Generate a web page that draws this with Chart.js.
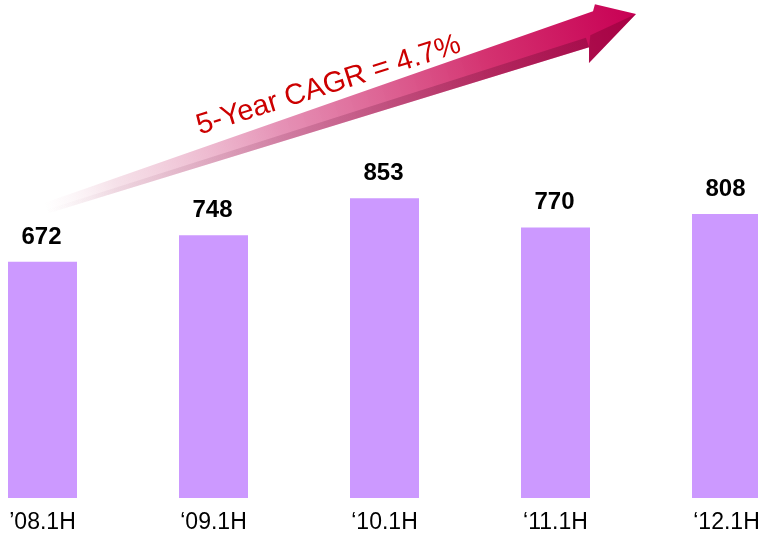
<!DOCTYPE html>
<html>
<head>
<meta charset="utf-8">
<script src="https://cdn.jsdelivr.net/npm/chart.js@4.4.1/dist/chart.umd.min.js"></script>
<style>
  html, body { margin: 0; padding: 0; background: #ffffff; }
  #wrap { width: 758px; height: 535px; position: relative; }
</style>
</head>
<body>
<div id="wrap"><canvas id="c" width="758" height="535"></canvas></div>
<script>
const categories = ["\u201908.1H", "\u201809.1H", "\u201810.1H", "\u201811.1H", "\u201812.1H"];
const values = [672, 748, 853, 770, 808];
const cagrText = "5-Year CAGR = 4.7%";

const FONT = '"Liberation Sans", Arial, Helvetica, sans-serif';

const arrowPlugin = {
  id: 'arrowPlugin',
  beforeDatasetsDraw(chart) {
    const ctx = chart.ctx;
    const tail = { x: 45, y: 208 }, tip = { x: 636, y: 14 };
    const ang = Math.atan2(tip.y - tail.y, tip.x - tail.x);
    const L = Math.hypot(tip.x - tail.x, tip.y - tail.y);
    ctx.save();
    ctx.translate(tail.x, tail.y);
    ctx.rotate(ang);
    // main face
    const g = ctx.createLinearGradient(0, 0, L, 0);
    g.addColorStop(0.0, 'rgba(245,225,232,0)');
    g.addColorStop(0.12, 'rgba(238,200,215,0.55)');
    g.addColorStop(0.4, 'rgba(228,140,178,0.95)');
    g.addColorStop(0.75, 'rgba(212,50,112,1)');
    g.addColorStop(1.0, 'rgba(200,0,84,1)');
    ctx.beginPath();
    ctx.moveTo(0, -5);
    ctx.lineTo(L - 40, -16);
    ctx.lineTo(L - 36, -22);
    ctx.lineTo(L, 0);
    ctx.lineTo(L - 60, 32);
    ctx.lineTo(L - 55, 17);
    ctx.lineTo(0, 6);
    ctx.closePath();
    ctx.fillStyle = g;
    ctx.fill();
    // darker lower face
    const g2 = ctx.createLinearGradient(0, 0, L, 0);
    g2.addColorStop(0.0, 'rgba(120,40,80,0)');
    g2.addColorStop(0.3, 'rgba(120,40,80,0.15)');
    g2.addColorStop(0.7, 'rgba(110,20,60,0.32)');
    g2.addColorStop(1.0, 'rgba(100,0,40,0.38)');
    ctx.beginPath();
    ctx.moveTo(0, 2);
    ctx.lineTo(L - 55, 7);
    ctx.lineTo(L - 55, 17);
    ctx.lineTo(0, 6);
    ctx.closePath();
    ctx.fillStyle = g2;
    ctx.fill();
    ctx.beginPath();
    ctx.moveTo(L, 0);
    ctx.lineTo(L - 60, 32);
    ctx.lineTo(L - 55, 17);
    ctx.lineTo(L - 50, 6);
    ctx.closePath();
    ctx.fillStyle = 'rgba(110,0,40,0.35)';
    ctx.fill();
    ctx.restore();

    // CAGR text
    ctx.save();
    ctx.translate(331, 93);
    ctx.rotate(-17.5 * Math.PI / 180);
    ctx.font = '29px ' + FONT;
    ctx.fillStyle = '#CC0000';
    ctx.textAlign = 'center';
    ctx.textBaseline = 'alphabetic';
    ctx.fillText(cagrText, 0, 0);
    ctx.restore();
  },
  afterDatasetsDraw(chart) {
    const ctx = chart.ctx;
    const meta = chart.getDatasetMeta(0);
    ctx.save();
    ctx.font = 'bold 24px ' + FONT;
    ctx.fillStyle = '#000000';
    ctx.textAlign = 'center';
    ctx.textBaseline = 'alphabetic';
    meta.data.forEach((bar, i) => {
      ctx.fillText(String(values[i]), bar.x - 1, bar.y - 18);
    });
    ctx.restore();
  }
};

new Chart(document.getElementById('c'), {
  type: 'bar',
  data: {
    labels: categories,
    datasets: [{
      data: values,
      backgroundColor: '#CC99FF',
      borderWidth: 0,
      categoryPercentage: 1,
      barPercentage: 0.4035,
      clip: false
    }]
  },
  options: {
    responsive: false,
    animation: false,
    events: [],
    layout: { padding: { left: 42.5, right: 31.5, top: 6, bottom: 0 } },
    plugins: { legend: { display: false }, tooltip: { enabled: false }, title: { display: false } },
    scales: {
      x: {
        offset: false,
        grid: { display: false, drawTicks: false },
        border: { display: false },
        ticks: {
          color: '#000000',
          font: { family: FONT, size: 23 },
          padding: 11,
          maxRotation: 0,
          autoSkip: false
        },
        afterFit(scale) {
          scale.paddingLeft = 0;
          scale.paddingRight = 0;
          scale.height = 37;
        }
      },
      y: {
        display: false,
        min: 0,
        max: 1400
      }
    }
  },
  plugins: [arrowPlugin]
});
</script>
</body>
</html>
